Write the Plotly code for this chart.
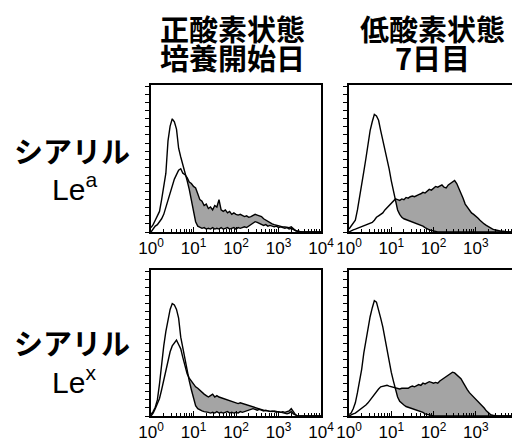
import plotly.graph_objects as go

# ---- data ----
# log10 fluorescence channels (x positions of histogram bins)
LOG_CHANNELS = [0.0, 0.05, 0.1, 0.15, 0.2, 0.25, 0.3, 0.35, 0.4, 0.45, 0.5, 0.55, 0.6, 0.65, 0.7,
                0.75, 0.8, 0.85, 0.9, 0.95, 1.0, 1.05, 1.1, 1.15, 1.2, 1.25, 1.3, 1.35, 1.4, 1.45,
                1.5, 1.55, 1.6, 1.65, 1.7, 1.75, 1.8, 1.85, 1.9, 1.95, 2.0, 2.05, 2.1, 2.15, 2.2,
                2.25, 2.3, 2.35, 2.4, 2.45, 2.5, 2.55, 2.6, 2.65, 2.7, 2.75, 2.8, 2.85, 2.9, 2.95,
                3.0, 3.05, 3.1, 3.15, 3.2, 3.25, 3.3, 3.35, 3.4, 3.45, 3.5, 3.55, 3.6, 3.65, 3.7,
                3.75, 3.8, 3.85, 3.9, 3.95, 4.0]

# Sialyl Le^a, normoxia day 0
CTRL_SLEA_DAY0 = [0.03, 0.05, 0.08, 0.11, 0.14, 0.22, 0.30, 0.40, 0.62, 0.72, 0.77, 0.75, 0.70, 0.57, 0.51,
                  0.46, 0.40, 0.35, 0.29, 0.22, 0.13, 0.07, 0.04, 0.03, 0.025, 0.03, 0.02, 0.025, 0.02, 0.03,
                  0.02, 0.025, 0.02, 0.03, 0.02, 0.025, 0.03, 0.02, 0.025, 0.03, 0.02, 0.03, 0.025, 0.03, 0.035,
                  0.03, 0.04, 0.05, 0.06, 0.07, 0.065, 0.06, 0.05, 0.045, 0.05, 0.04, 0.045, 0.04, 0.035, 0.04,
                  0.03, 0.035, 0.03, 0.025, 0.03, 0.02, 0.025, 0.015, 0.01, 0.005, 0, 0, 0, 0, 0,
                  0, 0, 0, 0, 0, 0]
SLEA_DAY0 = [0.00, 0.02, 0.04, 0.05, 0.07, 0.09, 0.12, 0.17, 0.22, 0.27, 0.32, 0.36, 0.39, 0.42, 0.43,
             0.40, 0.39, 0.37, 0.34, 0.33, 0.31, 0.30, 0.26, 0.22, 0.21, 0.18, 0.19, 0.16, 0.17, 0.15,
             0.18, 0.17, 0.22, 0.15, 0.14, 0.15, 0.13, 0.14, 0.12, 0.13, 0.12, 0.115, 0.12, 0.11, 0.105,
             0.11, 0.10, 0.105, 0.11, 0.12, 0.115, 0.11, 0.105, 0.09, 0.08, 0.07, 0.06, 0.055, 0.05, 0.045,
             0.045, 0.04, 0.035, 0.035, 0.03, 0.03, 0.035, 0.02, 0.01, 0.005, 0, 0, 0, 0, 0,
             0, 0, 0, 0, 0, 0]

# Sialyl Le^a, hypoxia day 7
CTRL_SLEA_HYPOXIA = [0.02, 0.04, 0.06, 0.08, 0.15, 0.23, 0.31, 0.41, 0.50, 0.60, 0.69, 0.75, 0.80, 0.79, 0.76,
                     0.69, 0.63, 0.57, 0.51, 0.43, 0.35, 0.28, 0.21, 0.15, 0.12, 0.10, 0.09, 0.085, 0.075, 0.07,
                     0.065, 0.06, 0.055, 0.05, 0.05, 0.04, 0.03, 0.02, 0.015, 0.01, 0.005, 0, 0, 0, 0,
                     0, 0, 0, 0, 0, 0, 0, 0, 0, 0, 0, 0, 0, 0, 0,
                     0, 0, 0, 0, 0, 0, 0, 0, 0, 0, 0, 0, 0, 0, 0,
                     0, 0, 0, 0, 0, 0]
SLEA_HYPOXIA = [0.00, 0.01, 0.015, 0.02, 0.025, 0.03, 0.035, 0.04, 0.045, 0.05, 0.06, 0.065, 0.08, 0.10, 0.11,
                0.12, 0.13, 0.15, 0.165, 0.18, 0.20, 0.215, 0.225, 0.22, 0.215, 0.225, 0.22, 0.235, 0.23, 0.24,
                0.245, 0.24, 0.25, 0.255, 0.26, 0.27, 0.265, 0.28, 0.29, 0.285, 0.30, 0.31, 0.305, 0.31, 0.32,
                0.305, 0.30, 0.32, 0.33, 0.34, 0.35, 0.33, 0.30, 0.27, 0.23, 0.19, 0.17, 0.15, 0.13, 0.12,
                0.11, 0.095, 0.08, 0.065, 0.055, 0.045, 0.035, 0.03, 0.02, 0.015, 0.01, 0.01, 0.005, 0.005, 0,
                0, 0, 0, 0, 0, 0]

# Sialyl Le^x, normoxia day 0
CTRL_SLEX_DAY0 = [0.01, 0.03, 0.06, 0.11, 0.22, 0.36, 0.48, 0.58, 0.67, 0.73, 0.77, 0.76, 0.73, 0.67, 0.54,
                  0.46, 0.38, 0.30, 0.24, 0.18, 0.12, 0.07, 0.05, 0.04, 0.035, 0.03, 0.03, 0.025, 0.02, 0.025,
                  0.02, 0.03, 0.02, 0.025, 0.02, 0.025, 0.03, 0.02, 0.025, 0.02, 0.025, 0.02, 0.03, 0.025, 0.03,
                  0.035, 0.04, 0.045, 0.05, 0.045, 0.04, 0.045, 0.04, 0.035, 0.04, 0.035, 0.03, 0.035, 0.03, 0.025,
                  0.03, 0.025, 0.02, 0.02, 0.015, 0.02, 0.03, 0.015, 0.005, 0, 0, 0, 0, 0, 0,
                  0, 0, 0, 0, 0, 0]
SLEX_DAY0 = [0.00, 0.02, 0.05, 0.08, 0.12, 0.18, 0.25, 0.31, 0.38, 0.44, 0.48, 0.50, 0.52, 0.49, 0.46,
             0.40, 0.35, 0.29, 0.26, 0.24, 0.22, 0.20, 0.19, 0.175, 0.165, 0.15, 0.14, 0.13, 0.14, 0.15,
             0.13, 0.14, 0.13, 0.125, 0.12, 0.12, 0.11, 0.105, 0.10, 0.095, 0.09, 0.085, 0.09, 0.085, 0.085,
             0.08, 0.07, 0.065, 0.06, 0.055, 0.05, 0.045, 0.04, 0.04, 0.035, 0.035, 0.03, 0.03, 0.035, 0.03,
             0.03, 0.025, 0.03, 0.025, 0.03, 0.035, 0.05, 0.025, 0.01, 0, 0, 0, 0, 0, 0,
             0, 0, 0, 0, 0, 0]

# Sialyl Le^x, hypoxia day 7
CTRL_SLEX_HYPOXIA = [0.01, 0.02, 0.05, 0.09, 0.16, 0.24, 0.32, 0.43, 0.52, 0.60, 0.68, 0.74, 0.79, 0.78, 0.73,
                     0.67, 0.61, 0.53, 0.45, 0.37, 0.30, 0.24, 0.18, 0.13, 0.10, 0.085, 0.075, 0.065, 0.06, 0.055,
                     0.05, 0.05, 0.045, 0.04, 0.03, 0.025, 0.015, 0.01, 0.005, 0, 0, 0, 0, 0, 0,
                     0, 0, 0, 0, 0, 0, 0, 0, 0, 0, 0, 0, 0, 0, 0,
                     0, 0, 0, 0, 0, 0, 0, 0, 0, 0, 0, 0, 0, 0, 0,
                     0, 0, 0, 0, 0, 0]
SLEX_HYPOXIA = [0.00, 0.01, 0.015, 0.02, 0.03, 0.04, 0.05, 0.06, 0.075, 0.09, 0.11, 0.13, 0.15, 0.17, 0.185,
                0.20, 0.205, 0.21, 0.21, 0.205, 0.20, 0.195, 0.19, 0.19, 0.185, 0.19, 0.19, 0.195, 0.19, 0.20,
                0.205, 0.20, 0.21, 0.215, 0.21, 0.225, 0.22, 0.23, 0.235, 0.23, 0.225, 0.23, 0.225, 0.24, 0.25,
                0.26, 0.27, 0.28, 0.29, 0.30, 0.295, 0.28, 0.27, 0.255, 0.23, 0.20, 0.18, 0.16, 0.145, 0.13,
                0.12, 0.105, 0.09, 0.075, 0.055, 0.035, 0.02, 0.01, 0.005, 0, 0, 0, 0, 0, 0,
                0, 0, 0, 0, 0, 0]

COLUMN_TITLES = [("正酸素状態", "培養開始日"), ("低酸素状態", "7日目")]
ROW_LABELS = [("シアリル", "Le<sup>a</sup>"), ("シアリル", "Le<sup>x</sup>")]
X_TICK_VALUES = [1, 10, 100, 1000, 10000]
X_TICK_TEXT = ["10<sup>0</sup>", "10<sup>1</sup>", "10<sup>2</sup>", "10<sup>3</sup>", "10<sup>4</sup>"]
X_MINOR_VALUES = [m * d for d in (1, 10, 100, 1000) for m in range(2, 10)]

fluorescence = [10 ** e for e in LOG_CHANNELS]

# ---- layout geometry ----
W, H = 520, 441
OFF = 8  # default page margin of the html body
GRAY = "#a4a4a4"
col_px = [(151, 321), (349, 518)]
row_px = [(85, 232), (270, 416)]


def px_x(v):
    return (v - OFF) / W


def px_y(v):
    return (H - (v - OFF)) / H


def xdom(a, b):
    return [px_x(a), px_x(b)]


def ydom(top, bottom):
    return [px_y(bottom), px_y(top)]


fig = go.Figure()

panels = [
    (0, 0, CTRL_SLEA_DAY0, SLEA_DAY0),
    (0, 1, CTRL_SLEA_HYPOXIA, SLEA_HYPOXIA),
    (1, 0, CTRL_SLEX_DAY0, SLEX_DAY0),
    (1, 1, CTRL_SLEX_HYPOXIA, SLEX_HYPOXIA),
]

layout_axes = {}
for i, (r, c, ctrl, stain) in enumerate(panels):
    n = "" if i == 0 else str(i + 1)
    xa, ya = "x" + n, "y" + n
    common = dict(x=fluorescence, xaxis=xa, yaxis=ya, mode="lines", hoverinfo="skip", showlegend=False)
    fig.add_trace(go.Scatter(y=stain, fill="tozeroy", fillcolor=GRAY, line=dict(width=0), **common))
    fig.add_trace(go.Scatter(y=ctrl, fill="tozeroy", fillcolor="white", line=dict(width=0), **common))
    fig.add_trace(go.Scatter(y=stain, line=dict(color="black", width=1.4), **common))
    fig.add_trace(go.Scatter(y=ctrl, line=dict(color="black", width=1.4), **common))

    layout_axes["xaxis" + n] = dict(
        type="log", range=[0, 4], domain=xdom(*col_px[c]), anchor=ya, automargin=False,
        showline=True, linecolor="black", linewidth=1.5, mirror=True,
        ticks="inside", ticklen=5, tickwidth=1, tickcolor="black",
        tickmode="array", tickvals=X_TICK_VALUES, ticktext=X_TICK_TEXT,
        tickfont=dict(family="Liberation Sans Narrow, Liberation Sans", size=17, color="black"),
        minor=dict(tickmode="array", tickvals=X_MINOR_VALUES, ticks="inside", ticklen=3,
                   tickwidth=1, tickcolor="black", showgrid=False),
        showgrid=False, zeroline=False, fixedrange=True,
    )
    layout_axes["yaxis" + n] = dict(
        range=[0, 1], domain=ydom(*row_px[r]), anchor=xa, automargin=False,
        showline=True, linecolor="black", linewidth=1.5, mirror=True,
        ticks="outside", ticklen=4, tickwidth=1, tickcolor="black",
        tick0=0, dtick=0.055, showticklabels=False,
        showgrid=False, zeroline=False, fixedrange=True,
    )

annotations = []
title_centers = [232, 432]
for c, (l1, l2) in enumerate(COLUMN_TITLES):
    for text, yc in ((l1, 28), (l2, 57)):
        annotations.append(dict(
            text="<b>" + text + "</b>", x=px_x(title_centers[c]), y=px_y(yc),
            xref="paper", yref="paper", xanchor="center", yanchor="middle", showarrow=False,
            font=dict(family="Noto Sans CJK JP", size=29, color="black"),
        ))

row_centers = [(150, 187), (342, 380)]
for r, (kata, le) in enumerate(ROW_LABELS):
    yk, yl = row_centers[r]
    annotations.append(dict(
        text="<b>" + kata + "</b>", x=px_x(72), y=px_y(yk),
        xref="paper", yref="paper", xanchor="center", yanchor="middle", showarrow=False,
        font=dict(family="Noto Sans CJK JP", size=29, color="black"),
    ))
    annotations.append(dict(
        text=le, x=px_x(74), y=px_y(yl),
        xref="paper", yref="paper", xanchor="center", yanchor="middle", showarrow=False,
        font=dict(family="Liberation Sans", size=30, color="black"),
    ))

fig.update_layout(
    width=W, height=H, margin=dict(l=0, r=0, t=0, b=0),
    paper_bgcolor="white", plot_bgcolor="white",
    annotations=annotations, showlegend=False,
    **layout_axes,
)

fig.write_html("out.html", config={"displayModeBar": False})
